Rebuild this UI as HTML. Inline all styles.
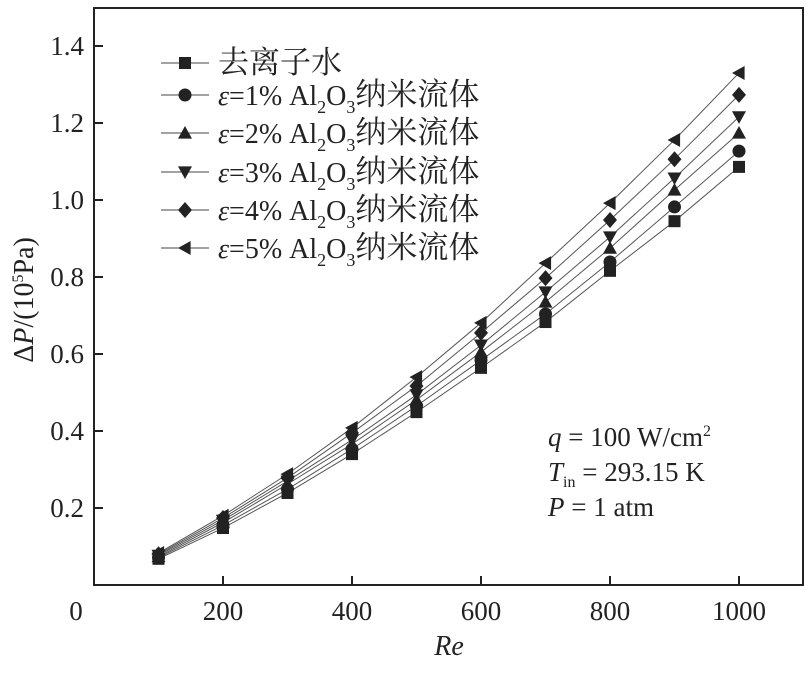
<!DOCTYPE html>
<html><head><meta charset="utf-8"><style>
body{margin:0;background:#fff}
svg text{font-family:"Liberation Serif","Noto Serif CJK SC",serif;fill:#222}
</style></head><body>
<svg id="chart" width="811" height="674" viewBox="0 0 811 674" xmlns="http://www.w3.org/2000/svg">
<g id="lines"></g>
<g id="marks"></g>
<rect x="94" y="8" width="709" height="577" fill="none" stroke="#222" stroke-width="2"/>
<g id="axes"></g>
<text x="449" y="655" font-size="28" font-style="italic" text-anchor="middle">Re</text>
<text transform="translate(33,300) rotate(-90)" font-size="28" text-anchor="middle">Δ<tspan font-style="italic">P</tspan>/(10<tspan font-size="16" dy="-10">5</tspan><tspan dy="10">Pa)</tspan></text>
<g font-size="27">
<text x="548" y="446"><tspan font-style="italic">q</tspan> = 100 W/cm<tspan font-size="16" dy="-10">2</tspan></text>
<text x="548" y="481"><tspan font-style="italic">T</tspan><tspan font-size="16" dy="6">in</tspan><tspan dy="-6"> = 293.15 K</tspan></text>
<text x="548" y="516"><tspan font-style="italic">P</tspan> = 1 atm</text>
</g>
<g id="legend"></g>
</svg>
<script>
const re = [100,200,300,400,500,600,700,800,900,1000];
const sWater = [0.068,0.148,0.239,0.340,0.449,0.564,0.683,0.816,0.945,1.086];
const s1 = [0.071,0.155,0.249,0.353,0.465,0.584,0.704,0.839,0.982,1.127];
const s2 = [0.074,0.162,0.262,0.366,0.481,0.605,0.735,0.875,1.026,1.174];
const s3 = [0.077,0.168,0.270,0.377,0.494,0.623,0.761,0.904,1.057,1.216];
const s4 = [0.080,0.174,0.278,0.395,0.517,0.655,0.797,0.948,1.106,1.273];
const s5 = [0.083,0.180,0.288,0.408,0.540,0.681,0.836,0.992,1.156,1.330];
const xTicks = [200,400,600,800,1000];
const yTicks = [0.2,0.4,0.6,0.8,1.0,1.2,1.4];
const labels = ["去离子水","1%","2%","3%","4%","5%"];
const shapes = ["square","circle","up","down","diamond","left"];
const series = [sWater,s1,s2,s3,s4,s5];

const NS="http://www.w3.org/2000/svg";
const X=v=>94+v*0.645, Y=v=>585-v*385;
function mk(tag,attrs,parent){const e=document.createElementNS(NS,tag);for(const k in attrs)e.setAttribute(k,attrs[k]);parent.appendChild(e);return e;}
function marker(shape,cx,cy,parent){
  const r=7;let e;
  if(shape==="square")e=mk("rect",{x:cx-6,y:cy-6,width:12,height:12},parent);
  else if(shape==="circle")e=mk("circle",{cx:cx,cy:cy,r:6.5},parent);
  else if(shape==="up")e=mk("polygon",{points:`${cx},${cy-r} ${cx+r},${cy+r*0.8} ${cx-r},${cy+r*0.8}`},parent);
  else if(shape==="down")e=mk("polygon",{points:`${cx},${cy+r} ${cx+r},${cy-r*0.8} ${cx-r},${cy-r*0.8}`},parent);
  else if(shape==="diamond")e=mk("polygon",{points:`${cx},${cy-r-1} ${cx+r},${cy} ${cx},${cy+r+1} ${cx-r},${cy}`},parent);
  else e=mk("polygon",{points:`${cx-r},${cy} ${cx+r*0.8},${cy-r} ${cx+r*0.8},${cy+r}`},parent);
  e.setAttribute("fill","#222");
  return e;
}
const lg=document.getElementById("lines"),mg=document.getElementById("marks");
series.forEach((s,i)=>{
  const p=mk("polyline",{points:s.map((v,j)=>X(re[j])+","+Y(v)).join(" "),fill:"none",stroke:"#555","stroke-width":1},lg);
  
  
  s.forEach((v,j)=>{const m=marker(shapes[i],X(re[j]),Y(v),mg);
    
    });
});
const ax=document.getElementById("axes");
xTicks.forEach(t=>{
  mk("line",{x1:X(t),x2:X(t),y1:585,y2:576,stroke:"#222","stroke-width":2},ax);
  const tx=mk("text",{x:X(t),y:620,"font-size":27,"text-anchor":"middle"},ax);tx.textContent=t;
  
  
});
yTicks.forEach(t=>{
  mk("line",{x1:94,x2:103,y1:Y(t),y2:Y(t),stroke:"#222","stroke-width":2},ax);
  const tx=mk("text",{x:84,y:Y(t)+9,"font-size":27,"text-anchor":"end"},ax);tx.textContent=t.toFixed(1);
  
  
});
const z=mk("text",{x:76,y:620,"font-size":27,"text-anchor":"middle"},ax);z.textContent="0";


const leg=document.getElementById("legend");
const rows=[63,95,133,172,210,248];
labels.forEach((l,i)=>{
  const g=mk("g",{},leg);
  
  
  mk("line",{x1:161,x2:209,y1:rows[i],y2:rows[i],stroke:"#444","stroke-width":1},g);
  marker(shapes[i],185,rows[i],g);
  const t=mk("text",{x:218,y:rows[i]+10,"font-size":28},g);
  if(i===0)t.innerHTML=`<tspan font-size="31">${l}</tspan>`;
  else t.innerHTML=`<tspan font-style="italic">ε</tspan>=${l} Al<tspan font-size="18" dy="8">2</tspan><tspan dy="-8">O</tspan><tspan font-size="18" dy="8">3</tspan><tspan dy="-8" font-size="31">纳米流体</tspan>`;
});
</script>
</body></html>
